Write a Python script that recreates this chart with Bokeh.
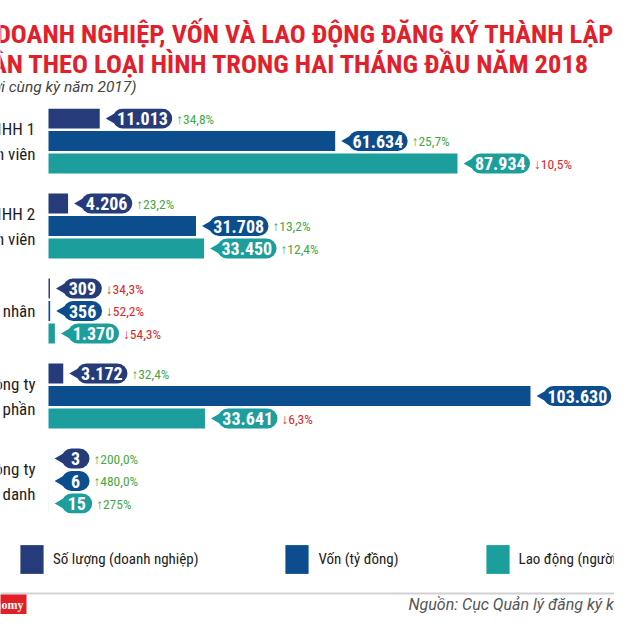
from math import pi
from bokeh.plotting import figure
from bokeh.models import Range1d, FactorRange, ColumnDataSource, Label, Span, Legend, LegendItem
from bokeh.layouts import column
from bokeh.embed import file_html
from bokeh.resources import INLINE
from bokeh.core.properties import value

# ---------------- data ----------------
TITLE_1 = "SỐ DOANH NGHIỆP, VỐN VÀ LAO ĐỘNG ĐĂNG KÝ THÀNH LẬP MỚI"
TITLE_2 = "PHÂN THEO LOẠI HÌNH TRONG HAI THÁNG ĐẦU NĂM 2018"
SUBTITLE = "(So sánh với cùng kỳ năm 2017)"
SOURCE = "Nguồn: Cục Quản lý đăng ký kinh doanh"
BRAND = "VnEconomy"

groups = ["Công ty TNHH 1\nthành viên", "Công ty TNHH 2\nthành viên",
          "Doanh nghiệp tư nhân", "Công ty\ncổ phần", "Công ty\nhợp danh"]
series = ["Số lượng (doanh nghiệp)", "Vốn (tỷ đồng)", "Lao động (người)"]
so_luong = [11013, 4206, 309, 3172, 3]
von = [61634, 31708, 356, 103630, 6]
lao_dong = [87934, 33450, 1370, 33641, 15]
so_luong_change = ["+34,8%", "+23,2%", "-34,3%", "+32,4%", "+200,0%"]
von_change = ["+25,7%", "+13,2%", "-52,2%", "", "+480,0%"]
lao_dong_change = ["-10,5%", "+12,4%", "-54,3%", "-6,3%", "+275%"]

# ---------------- style ----------------
COLORS = ["#253b7a", "#0c4d8e", "#1b9e9c"]
UP, DOWN = "#45a845", "#d6262e"
RED = "#e2202c"
FONT_C = "Roboto Condensed"
W = 614
GAP, TIP = 7, 6

def fmt(v):
    return f"{v:,}".replace(",", ".")

def text_w(s):
    return sum(8.3 if c.isdigit() else 4.0 for c in s)

# ---------------- main chart ----------------
x_start, x_end = -10320, 121690
K = W / (x_end - x_start)

factors = [(g, s) for g in groups for s in series][::-1]

rows = dict(y=[], val=[], label=[], color=[], pill_x=[], pill_w=[], tri_x=[], text_off=[],
            pct=[], pct_color=[], pct_off=[])
for gi, g in enumerate(groups):
    for si, (s, vals, chg) in enumerate(zip(series, [so_luong, von, lao_dong],
                                             [so_luong_change, von_change, lao_dong_change])):
        v = vals[gi]
        lab = fmt(v)
        bw = max(28.0, text_w(lab) + 14)
        rows["y"].append((g, s))
        rows["val"].append(v)
        rows["label"].append(lab)
        rows["color"].append(COLORS[si])
        rows["pill_w"].append(bw)
        rows["pill_x"].append(v + (GAP + TIP + bw / 2) / K)
        rows["tri_x"].append(v + (GAP + 6) / K)
        rows["text_off"].append(GAP + TIP + bw / 2)
        c = chg[gi]
        rows["pct"].append(("↑" if c.startswith("+") else "↓") + c[1:] if c else "")
        rows["pct_color"].append(UP if c.startswith("+") else DOWN)
        rows["pct_off"].append(GAP + TIP + bw + 4)
src = ColumnDataSource(rows)

p = figure(width=W, height=428, output_backend="svg", toolbar_location=None,
           x_range=Range1d(x_start, x_end),
           y_range=FactorRange(factors=factors, factor_padding=0.125, group_padding=1.0, range_padding=0),
           min_border_left=0, min_border_right=0, min_border_top=8, min_border_bottom=15,
           x_axis_location=None, y_axis_location=None)
p.grid.visible = False
p.outline_line_color = None

p.hbar(y="y", left=0, right="val", height=1.0, fill_color="color", line_color=None, source=src)
p.scatter(x="tri_x", y="y", marker="triangle", size=12, angle=pi / 2, fill_color="color",
          line_color=None, source=src)
p.rect(x="pill_x", y="y", width="pill_w", width_units="screen", height=1.0, fill_color="color",
       line_color=None, border_radius=10, source=src)
p.text(x="val", y="y", text="label", x_offset="text_off", text_align="center", text_baseline="middle",
       text_color="white", text_font=value(FONT_C), text_font_style="bold", text_font_size="18px", source=src)
p.text(x="val", y="y", text="pct", x_offset="pct_off", text_align="left", text_baseline="middle",
       text_color="pct_color", text_font=value(FONT_C), text_font_size="13.5px", source=src)

gsrc = ColumnDataSource(dict(x=[0] * len(groups), y=[(g, series[1]) for g in groups], t=groups))
p.text(x="x", y="y", text="t", x_offset=-13, text_align="right", text_baseline="middle",
       text_line_height=1.25, text_color="#1e1e1e", text_font=value(FONT_C), text_font_size="17px",
       source=gsrc)

# ---------------- header ----------------
h = figure(width=W, height=100, output_backend="svg", toolbar_location=None,
           x_range=Range1d(0, W), y_range=Range1d(100, 0), min_border=0,
           x_axis_location=None, y_axis_location=None)
h.grid.visible = False
h.outline_line_color = None
h.add_layout(Label(x=-41, y=33, text=TITLE_1, text_align="left", text_baseline="alphabetic",
                   text_color=RED, text_font=FONT_C, text_font_style="bold", text_font_size="26.5px"))
h.add_layout(Label(x=590, y=63, text=TITLE_2, text_align="right", text_baseline="alphabetic",
                   text_color=RED, text_font=FONT_C, text_font_style="bold", text_font_size="26.5px"))
h.add_layout(Label(x=136, y=86, text=SUBTITLE, text_align="right", text_baseline="alphabetic",
                   text_color="#444444", text_font="Roboto", text_font_style="italic", text_font_size="15.5px"))

# ---------------- legend + footer ----------------
f = figure(width=W, height=86, output_backend="svg", toolbar_location=None,
           x_range=Range1d(0, W), y_range=Range1d(614, 528), min_border=0,
           x_axis_location=None, y_axis_location=None)
f.grid.visible = False
f.outline_line_color = None
items = []
for s, c in zip(series, COLORS):
    r = f.quad(left=[-50], right=[-40], top=[-50], bottom=[-40], fill_color=c, line_color=None)
    items.append(LegendItem(label=s, renderers=[r]))
leg = Legend(items=items, location=(17, 37), orientation="horizontal", glyph_width=29, glyph_height=36,
             label_standoff=7, spacing=84, padding=0, margin=0, border_line_color=None,
             background_fill_alpha=0, label_text_font=FONT_C, label_text_font_size="15px",
             label_text_color="#222222")
f.add_layout(leg)
f.add_layout(Span(location=593, dimension="width", line_color="#d2d2d2", line_width=2))
f.add_layout(Label(x=26, y=604, text=BRAND, text_align="right", text_baseline="middle",
                   text_color="white", background_fill_color="#e01f26", padding=3,
                   text_font="Liberation Serif", text_font_style="bold", text_font_size="12px"))
f.add_layout(Label(x=408, y=604, text=SOURCE, text_align="left", text_baseline="middle",
                   text_color="#555555", text_font="Roboto", text_font_style="italic", text_font_size="16px"))

layout = column(h, p, f, spacing=0)
open("out.html", "w").write(file_html(layout, INLINE))
